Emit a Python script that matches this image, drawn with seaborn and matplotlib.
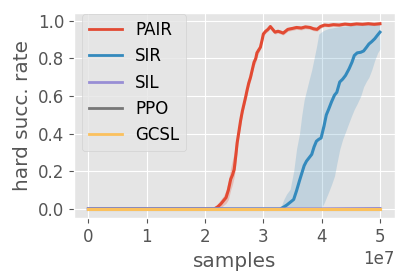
import numpy as np
import pandas as pd
import matplotlib
matplotlib.use("Agg")
import matplotlib.pyplot as plt
import seaborn as sns

plt.style.use("ggplot")
plt.rcParams["font.size"] = 12

methods = ["PAIR", "SIR", "SIL", "PPO", "GCSL"]
colors = ["#E24A33", "#348ABD", "#988ED5", "#777777", "#FBC15E"]

# x in units of 1e7 samples
pair_x = [0.0, 1.0, 2.0, 2.16, 2.22, 2.27, 2.32, 2.36, 2.40, 2.44, 2.47, 2.50, 2.53, 2.55, 2.58,
          2.61, 2.64, 2.67, 2.70, 2.72, 2.75, 2.78, 2.81, 2.84, 2.87, 2.89, 2.92, 2.95, 2.98,
          3.00, 3.04, 3.08, 3.12, 3.16, 3.20, 3.25, 3.30, 3.34, 3.38, 3.42, 3.50, 3.57,
          3.65, 3.72, 3.80, 3.86, 3.92, 3.98, 4.05, 4.12, 4.20, 4.30, 4.40, 4.50, 4.60,
          4.70, 4.80, 4.90, 5.00]
pair_mean = [0.0, 0.0, 0.0, 0.0, 0.012, 0.026, 0.045, 0.06, 0.10, 0.158, 0.18, 0.21, 0.29, 0.35, 0.41,
             0.47, 0.52, 0.56, 0.60, 0.63, 0.67, 0.70, 0.74, 0.78, 0.80, 0.83, 0.845, 0.86, 0.90,
             0.93, 0.945, 0.955, 0.97, 0.955, 0.94, 0.945, 0.94, 0.935, 0.945, 0.955, 0.96, 0.965,
             0.962, 0.968, 0.965, 0.958, 0.955, 0.97, 0.978, 0.976, 0.98, 0.978, 0.983, 0.98, 0.984,
             0.982, 0.985, 0.982, 0.985]
pair_lo = [0.0, 0.0, 0.0, 0.0, 0.0, 0.005, 0.02, 0.03, 0.05, 0.10, 0.13, 0.17, 0.24, 0.31, 0.38,
           0.44, 0.50, 0.54, 0.58, 0.61, 0.65, 0.68, 0.72, 0.76, 0.78, 0.81, 0.83, 0.85, 0.89,
           0.92, 0.935, 0.945, 0.96, 0.945, 0.93, 0.935, 0.93, 0.925, 0.935, 0.945, 0.95, 0.955,
           0.952, 0.958, 0.955, 0.948, 0.945, 0.96, 0.97, 0.968, 0.972, 0.97, 0.976, 0.972, 0.977,
           0.975, 0.978, 0.975, 0.978]
pair_hi = [0.0, 0.0, 0.0, 0.0, 0.03, 0.05, 0.07, 0.10, 0.15, 0.22, 0.26, 0.30, 0.36, 0.40, 0.44,
           0.50, 0.55, 0.58, 0.62, 0.65, 0.69, 0.72, 0.76, 0.80, 0.83, 0.85, 0.86, 0.88, 0.915,
           0.945, 0.955, 0.965, 0.98, 0.965, 0.95, 0.955, 0.95, 0.945, 0.955, 0.965, 0.97, 0.975,
           0.972, 0.978, 0.975, 0.968, 0.965, 0.98, 0.986, 0.984, 0.988, 0.986, 0.99, 0.988, 0.991,
           0.99, 0.992, 0.99, 0.992]

sir_x = [0.0, 1.0, 2.0, 3.0, 3.29, 3.35, 3.40, 3.46, 3.52, 3.57, 3.62, 3.66, 3.70, 3.74, 3.78,
         3.83, 3.87, 3.91, 3.95, 3.99, 4.04, 4.08, 4.12, 4.17, 4.22, 4.26, 4.31, 4.36, 4.41,
         4.47, 4.52, 4.56, 4.61, 4.67, 4.72, 4.77, 4.81, 4.86, 4.91, 4.96, 5.00]
sir_mean = [0.0, 0.0, 0.0, 0.0, 0.0, 0.01, 0.02, 0.035, 0.05, 0.097, 0.15, 0.19, 0.23, 0.254, 0.27,
            0.29, 0.33, 0.36, 0.37, 0.377, 0.44, 0.50, 0.53, 0.57, 0.605, 0.62, 0.675, 0.69, 0.71,
            0.745, 0.78, 0.816, 0.83, 0.833, 0.84, 0.86, 0.877, 0.89, 0.905, 0.925, 0.94]
sir_lo = [0.0, 0.0, 0.0, 0.0, 0.0, 0.0, 0.0, 0.0, 0.0, 0.0, 0.0, 0.0, 0.0, 0.0, 0.0,
          0.0, 0.0, 0.0, 0.0, 0.0, 0.03, 0.06, 0.09, 0.13, 0.175, 0.24, 0.316, 0.37, 0.41,
          0.46, 0.50, 0.53, 0.56, 0.60, 0.65, 0.68, 0.70, 0.74, 0.79, 0.83, 0.85]
sir_hi = [0.0, 0.0, 0.0, 0.0, 0.0, 0.05, 0.08, 0.105, 0.20, 0.32, 0.40, 0.50, 0.58, 0.63, 0.68,
          0.74, 0.80, 0.86, 0.93, 0.94, 0.95, 0.955, 0.96, 0.962, 0.965, 0.967, 0.97, 0.97, 0.972,
          0.975, 0.975, 0.977, 0.978, 0.98, 0.98, 0.982, 0.982, 0.984, 0.985, 0.985, 0.986]

flat_x = [0.0, 1.0, 2.0, 3.0, 4.0, 5.0]
sil_mean = [0.0, 0.0, 0.0, 0.0, 0.0, 0.002]
ppo_mean = [0.0, 0.0, 0.0, 0.0, 0.0, 0.0]
gcsl_mean = [0.0, 0.0, 0.0, 0.0, 0.0, 0.0]

scale = 1e7
frames = []
for name, xs, ys in [("PAIR", pair_x, pair_mean), ("SIR", sir_x, sir_mean),
                     ("SIL", flat_x, sil_mean), ("PPO", flat_x, ppo_mean),
                     ("GCSL", flat_x, gcsl_mean)]:
    frames.append(pd.DataFrame({"samples": np.array(xs) * scale, "rate": ys, "method": name}))
df = pd.concat(frames, ignore_index=True)

fig = plt.figure(figsize=(4.08, 2.78), dpi=100)
ax = fig.add_axes([0.181, 0.215, 0.786, 0.738])

ax.fill_between(np.array(pair_x) * scale, pair_lo, pair_hi, color=colors[0], alpha=0.25, lw=0)
ax.fill_between(np.array(sir_x) * scale, sir_lo, sir_hi, color=colors[1], alpha=0.2, lw=0)

sns.lineplot(data=df, x="samples", y="rate", hue="method", hue_order=methods,
             palette=colors, linewidth=2.2, ax=ax, errorbar=None)

ax.set_xlabel("samples")
ax.set_ylabel("hard succ. rate")
ax.set_xticks(np.arange(0, 6) * scale)
ax.set_yticks([0.0, 0.2, 0.4, 0.6, 0.8, 1.0])
leg = ax.legend(loc="upper left", bbox_to_anchor=(0.025, 0.994), borderaxespad=0)
for line in leg.get_lines():
    line.set_linewidth(2)

fig.savefig("out.png", dpi=100)
